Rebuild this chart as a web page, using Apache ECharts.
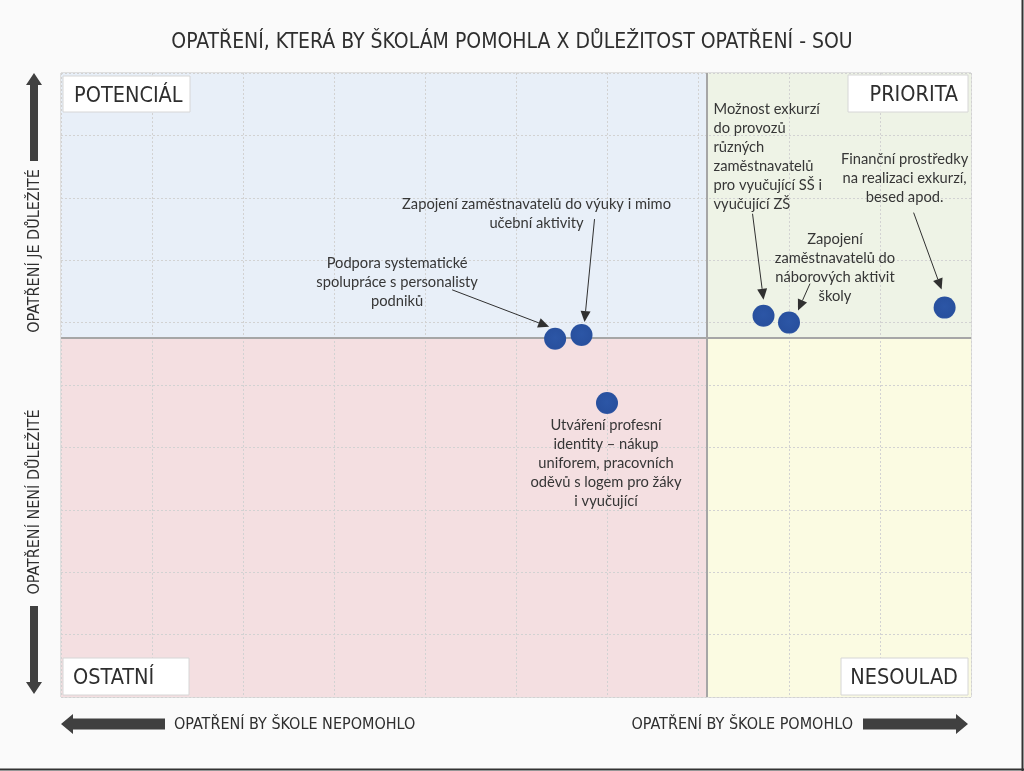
<!DOCTYPE html>
<html>
<head>
<meta charset="utf-8">
<script src="https://cdn.jsdelivr.net/npm/echarts@6/dist/echarts.min.js"></script>
<style>
html,body{margin:0;padding:0;background:#fafafa;}
#chart{width:1024px;height:771px;}
</style>
</head>
<body>
<div id="chart"></div>
<script>
// ---- data ----
const names = [
  'Podpora systematické spolupráce s personalisty podniků',
  'Zapojení zaměstnavatelů do výuky i mimo učební aktivity',
  'Utváření profesní identity – nákup uniforem, pracovních oděvů s logem pro žáky i vyučující',
  'Možnost exkurzí do provozů různých zaměstnavatelů pro vyučující SŠ i vyučující ZŠ',
  'Zapojení zaměstnavatelů do náborových aktivit školy',
  'Finanční prostředky na realizaci exkurzí, besed apod.'
];
const labelLines = [
  ['Podpora systematické', 'spolupráce s personalisty', 'podniků'],
  ['Zapojení zaměstnavatelů do výuky i mimo', 'učební aktivity'],
  ['Utváření profesní', 'identity – nákup', 'uniforem, pracovních', 'oděvů s logem pro žáky', 'i vyučující'],
  ['Možnost exkurzí', 'do provozů', 'různých', 'zaměstnavatelů', 'pro vyučující SŠ i', 'vyučující ZŠ'],
  ['Zapojení', 'zaměstnavatelů do', 'náborových aktivit', 'školy'],
  ['Finanční prostředky', 'na realizaci exkurzí,', 'besed apod.']
];
const xValues = [5.43, 5.72, 6.00, 7.72, 8.00, 9.71];
const yValues = [5.74, 5.80, 4.71, 6.11, 6.00, 6.24];
const xDivider = 7.1;
const yDivider = 5.76;
const quadrantNames = ['POTENCIÁL', 'PRIORITA', 'OSTATNÍ', 'NESOULAD'];
const titleText = 'OPATŘENÍ, KTERÁ BY ŠKOLÁM POMOHLA X DŮLEŽITOST OPATŘENÍ - SOU';
const axisTexts = ['OPATŘENÍ BY ŠKOLE NEPOMOHLO', 'OPATŘENÍ BY ŠKOLE POMOHLO', 'OPATŘENÍ JE DŮLEŽITÉ', 'OPATŘENÍ NENÍ DŮLEŽITÉ'];

// ---- layout (pixel offsets relative to each point) ----
const annLayout = [
  {tx: -158, ty: -76, align: 'center', a0: [-103, -49], a1: [-6, -12]},
  {tx: -45, ty: -131, align: 'center', a0: [13, -116], a1: [3, -13]},
  {tx: -1, ty: 22, align: 'center', a0: null},
  {tx: -50, ty: -206, align: 'left', a0: [-11, -102], a1: [0, -16]},
  {tx: 46, ty: -83, align: 'center', a0: [21, -39], a1: [9, -12]},
  {tx: -40, ty: -148, align: 'center', a0: [-31, -95], a1: [-3, -18]}
];

const NARROW = '"Liberation Sans Narrow", "DejaVu Sans Condensed", "Open Sans", sans-serif';
const ANNFONT = 'Lato, "Open Sans", sans-serif';
const G = {left: 61, top: 73, width: 910, height: 624};

const chart = echarts.init(document.getElementById('chart'));
const points = xValues.map((x, i) => ({name: names[i], value: [x, yValues[i]]}));

const splitStyle = {show: true, lineStyle: {color: '#d2d2d2', type: [2, 2], width: 1}};
const option = {
  backgroundColor: '#fafafa',
  animation: false,
  title: {
    text: titleText, left: 'center', top: 27,
    textStyle: {fontFamily: NARROW, fontSize: 21, fontWeight: 'normal', color: '#2e2e2e'}
  },
  grid: {left: G.left, top: G.top, width: G.width, height: G.height, show: true, borderColor: '#c4c4c4', borderWidth: 1, backgroundColor: 'transparent'},
  xAxis: {
    type: 'value', min: 0, max: 10, interval: 1, z: 3,
    axisLine: {show: false}, axisTick: {show: false}, axisLabel: {show: false},
    splitLine: splitStyle
  },
  yAxis: {
    type: 'value', min: 0, max: 10, interval: 1, z: 3,
    axisLine: {show: false}, axisTick: {show: false}, axisLabel: {show: false},
    splitLine: splitStyle
  },
  series: [{
    type: 'scatter',
    data: [],
    z: 1,
    markArea: {
      silent: true,
      data: [
        [{coord: [0, yDivider], itemStyle: {color: '#e8eff8'}}, {coord: [xDivider, 10]}],
        [{coord: [xDivider, yDivider], itemStyle: {color: '#eef3e6'}}, {coord: [10, 10]}],
        [{coord: [0, 0], itemStyle: {color: '#f4dfe1'}}, {coord: [xDivider, yDivider]}],
        [{coord: [xDivider, 0], itemStyle: {color: '#fbfbe2'}}, {coord: [10, yDivider]}]
      ]
    }
  }, {
    type: 'scatter',
    data: points,
    symbolSize: 22,
    z: 5,
    itemStyle: {
      opacity: 1,
      color: {type: 'radial', x: 0.5, y: 0.45, r: 0.6, colorStops: [{offset: 0, color: '#2c56a6'}, {offset: 0.82, color: '#28509e'}, {offset: 1, color: '#4669b0'}]}
    },
    markLine: {
      silent: true, symbol: 'none', label: {show: false},
      lineStyle: {color: '#a6a6a6', width: 2, type: 'solid'},
      data: [{xAxis: xDivider}, {yAxis: yDivider}]
    }
  }]
};
chart.setOption(option);

// ---- decorations ----
const graphics = [];
const darkArrow = '#404040';
const qBoxes = [
  {x: 63, y: 76, w: 127, h: 36, align: 'left', tx: 74},
  {x: 848, y: 75, w: 120, h: 37, align: 'right', tx: 958},
  {x: 63, y: 658, w: 126, h: 37, align: 'left', tx: 73},
  {x: 841, y: 658, w: 127, h: 37, align: 'right', tx: 958}
];
qBoxes.forEach((b, i) => {
  graphics.push({type: 'rect', shape: {x: b.x, y: b.y, width: b.w, height: b.h}, style: {fill: '#ffffff', stroke: '#d6d6d6', lineWidth: 1}, z: 20});
  graphics.push({type: 'text', x: b.tx, y: b.y + b.h / 2 + 2, style: {text: quadrantNames[i], align: b.align, verticalAlign: 'middle', font: '21.5px ' + NARROW, fill: '#2e2e2e'}, z: 21});
});
function hArrow(x0, x1, yc, dir) {
  const head = 12, sh = 5.5, hh = 10;
  let pts;
  if (dir < 0) {
    pts = [[x0, yc], [x0 + head, yc - hh], [x0 + head, yc - sh], [x1, yc - sh], [x1, yc + sh], [x0 + head, yc + sh], [x0 + head, yc + hh]];
  } else {
    pts = [[x1, yc], [x1 - head, yc - hh], [x1 - head, yc - sh], [x0, yc - sh], [x0, yc + sh], [x1 - head, yc + sh], [x1 - head, yc + hh]];
  }
  graphics.push({type: 'polygon', shape: {points: pts}, style: {fill: darkArrow}, z: 20});
}
function vArrow(y0, y1, xc, dir) {
  const head = 12, sh = 4, hh = 8;
  let pts;
  if (dir < 0) {
    pts = [[xc, y0], [xc - hh, y0 + head], [xc - sh, y0 + head], [xc - sh, y1], [xc + sh, y1], [xc + sh, y0 + head], [xc + hh, y0 + head]];
  } else {
    pts = [[xc, y1], [xc - hh, y1 - head], [xc - sh, y1 - head], [xc - sh, y0], [xc + sh, y0], [xc + sh, y1 - head], [xc + hh, y1 - head]];
  }
  graphics.push({type: 'polygon', shape: {points: pts}, style: {fill: darkArrow}, z: 20});
}
hArrow(61, 165, 724, -1);
hArrow(863, 968, 724, 1);
vArrow(73, 161, 34, -1);
vArrow(606, 694, 34, 1);
const axFont = '16px ' + NARROW;
graphics.push({type: 'text', x: 174, y: 725, style: {text: axisTexts[0], align: 'left', verticalAlign: 'middle', font: axFont, fill: '#2e2e2e'}, z: 20});
graphics.push({type: 'text', x: 853, y: 725, style: {text: axisTexts[1], align: 'right', verticalAlign: 'middle', font: axFont, fill: '#2e2e2e'}, z: 20});
graphics.push({type: 'text', x: 35, y: 251, rotation: Math.PI / 2, style: {text: axisTexts[2], align: 'center', verticalAlign: 'middle', font: axFont, fill: '#2e2e2e'}, z: 20});
graphics.push({type: 'text', x: 35, y: 502, rotation: Math.PI / 2, style: {text: axisTexts[3], align: 'center', verticalAlign: 'middle', font: axFont, fill: '#2e2e2e'}, z: 20});
graphics.push({type: 'line', shape: {x1: 1022.5, y1: 0, x2: 1022.5, y2: 771}, style: {stroke: '#333', lineWidth: 2}, z: 30});
graphics.push({type: 'line', shape: {x1: 0, y1: 769.5, x2: 1024, y2: 769.5}, style: {stroke: '#333', lineWidth: 2}, z: 30});

points.forEach((p, i) => {
  const c = chart.convertToPixel({seriesIndex: 1}, p.value);
  const L = annLayout[i];
  graphics.push({
    type: 'text', x: c[0] + L.tx, y: c[1] + L.ty - 9.5,
    style: {text: labelLines[i].join('\n'), align: L.align, verticalAlign: 'top', lineHeight: 19, font: '14.7px ' + ANNFONT, fill: '#363636'},
    z: 22
  });
  if (L.a0) {
    const sx = c[0] + L.a0[0], sy = c[1] + L.a0[1];
    const ex = c[0] + L.a1[0], ey = c[1] + L.a1[1];
    const ang = Math.atan2(ey - sy, ex - sx);
    const hl = 11, hw = 5;
    const bx = ex - hl * Math.cos(ang), by = ey - hl * Math.sin(ang);
    graphics.push({type: 'line', shape: {x1: sx, y1: sy, x2: bx, y2: by}, style: {stroke: '#303030', lineWidth: 1}, z: 22});
    graphics.push({type: 'polygon', shape: {points: [[ex, ey], [bx - hw * Math.sin(ang), by + hw * Math.cos(ang)], [bx + hw * Math.sin(ang), by - hw * Math.cos(ang)]]}, style: {fill: '#303030'}, z: 22});
  }
});
chart.setOption({graphic: {elements: graphics}});
</script>
</body>
</html>
